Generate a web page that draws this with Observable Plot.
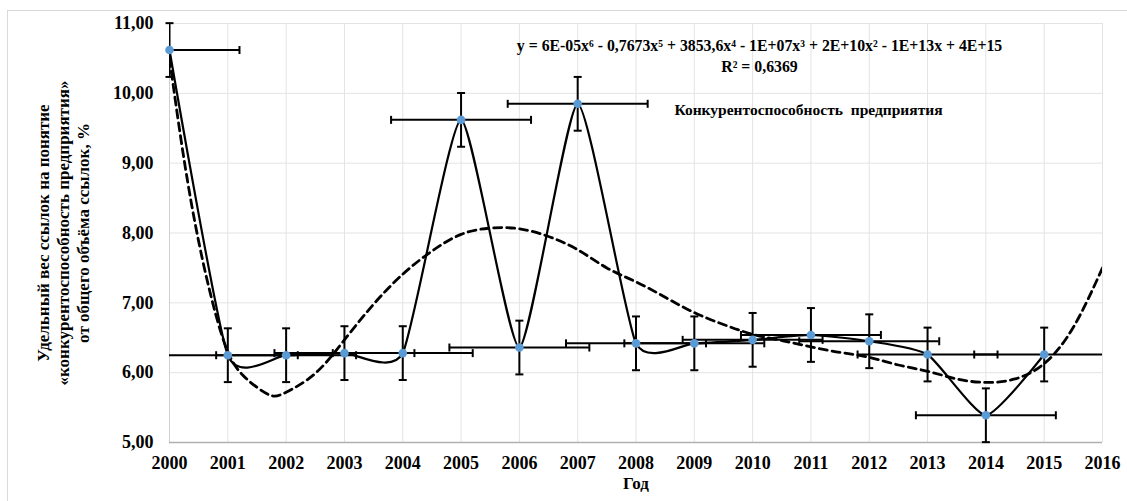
<!DOCTYPE html>
<html>
<head>
<meta charset="utf-8">
<script src="https://cdn.jsdelivr.net/npm/d3@7"></script>
<script src="https://cdn.jsdelivr.net/npm/@observablehq/plot@0.6"></script>
<style>
  html, body { margin: 0; padding: 0; background: #fff; }
  #wrap { position: relative; width: 1127px; height: 501px; overflow: hidden; }
  #frame { position: absolute; left: 7px; top: 10px; width: 1200px; height: 600px;
           border-top: 1px solid #d9d9d9; border-left: 1px solid #d9d9d9; }
  #chart { position: absolute; left: 0; top: 0; }
  #chart svg, #chart svg text, #chart svg g { font-family: "Liberation Serif", "DejaVu Serif", serif !important; }
</style>
</head>
<body>
<div id="wrap"><div id="frame"></div><div id="chart"></div></div>
<script>
// Observed series
const years  = [2000, 2001, 2002, 2003, 2004, 2005, 2006, 2007, 2008, 2009, 2010, 2011, 2012, 2013, 2014, 2015];
const values = [10.62, 6.25, 6.25, 6.28, 6.28, 9.62, 6.36, 9.85, 6.42, 6.42, 6.47, 6.54, 6.45, 6.26, 5.39, 6.26];
// Error bar sizes (fixed values)
const yErrors = [0.385, 0.385, 0.385, 0.385, 0.385, 0.385, 0.385, 0.385, 0.385, 0.385, 0.385, 0.385, 0.385, 0.385, 0.385, 0.385];
const xErrors = [1.2, 1.2, 1.2, 1.2, 1.2, 1.2, 1.2, 1.2, 1.2, 1.2, 1.2, 1.2, 1.2, 1.2, 1.2, 1.2];
// Polynomial trend line
const trendX = [2000, 2000.25, 2000.5, 2000.75, 2001, 2001.25, 2001.5, 2001.75, 2002, 2002.5, 2003, 2003.5, 2004, 2004.5, 2005, 2005.5, 2006, 2006.5, 2007, 2007.5, 2008, 2008.5, 2009, 2009.5, 2010, 2010.5, 2011, 2011.5, 2012, 2012.5, 2013, 2013.5, 2014, 2014.5, 2015, 2015.5, 2016];
const trendY = [10.5, 9.05, 7.88, 6.97, 6.30, 5.97, 5.79, 5.67, 5.72, 5.99, 6.47, 6.98, 7.41, 7.74, 7.98, 8.07, 8.06, 7.95, 7.76, 7.50, 7.30, 7.08, 6.86, 6.69, 6.55, 6.46, 6.37, 6.29, 6.22, 6.11, 6.02, 5.91, 5.86, 5.91, 6.13, 6.65, 7.50];
// Axis ticks
const xTicks = [2000, 2001, 2002, 2003, 2004, 2005, 2006, 2007, 2008, 2009, 2010, 2011, 2012, 2013, 2014, 2015, 2016];
const yTicks = [5, 6, 7, 8, 9, 10, 11];
// Texts
const yTitle = "Удельный вес ссылок на понятие\n«конкурентоспособность предприятия»\nот общего объёма ссылок, %";
const xTitle = "Год";
const equation = "y = 6E-05x⁶ - 0,7673x⁵ + 3853,6x⁴ - 1E+07x³ + 2E+10x² - 1E+13x + 4E+15";
const rSquared = "R² = 0,6369";
const seriesName = "Конкурентоспособность  предприятия";

const data = years.map((x, i) => ({x, y: values[i], ex: xErrors[i], ey: yErrors[i]}));
const trend = trendX.map((x, i) => ({x, y: trendY[i]}));

const vCap = {draw(ctx, size) { const r = Math.sqrt(size / Math.PI); ctx.moveTo(0, -r); ctx.lineTo(0, r); }};
const hCap = {draw(ctx, size) { const r = Math.sqrt(size / Math.PI); ctx.moveTo(-r, 0); ctx.lineTo(r, 0); }};

const serif = "Liberation Serif, DejaVu Serif, serif";
const grid = "#e3e3e3";

const chart = Plot.plot({
  width: 1127,
  height: 501,
  marginLeft: 169,
  marginRight: 25,
  marginTop: 23,
  marginBottom: 59,
  style: {fontFamily: serif, fontWeight: "bold", fontSize: "18px", color: "#000", background: "transparent"},
  x: {domain: [2000, 2016]},
  y: {domain: [5, 11]},
  marks: [
    Plot.gridX(xTicks, {stroke: grid, strokeOpacity: 1, strokeWidth: 1}),
    Plot.gridY(yTicks, {stroke: grid, strokeOpacity: 1, strokeWidth: 1}),
    Plot.ruleX([2000], {stroke: "#d0d0d0", strokeWidth: 1}),
    Plot.ruleY([5], {stroke: "#b0b0b0", strokeWidth: 1.5}),
    Plot.axisX(xTicks, {tickSize: 0, tickPadding: 14, tickFormat: d => String(d), label: null, fontSize: 18, fontWeight: "bold"}),
    Plot.axisY(yTicks, {tickSize: 0, tickPadding: 16, tickFormat: d => d.toFixed(2).replace(".", ","), label: null, fontSize: 18, fontWeight: "bold"}),
    // trend line
    Plot.line(trend, {x: "x", y: "y", curve: "natural", stroke: "#000", strokeWidth: 2.8, strokeDasharray: "8,5", clip: true}),
    // smoothed series line
    Plot.line(data, {x: "x", y: "y", curve: "cardinal", tension: 0.45, stroke: "#000", strokeWidth: 2.2}),
    // horizontal error bars
    Plot.ruleY(data, {y: "y", x1: d => d.x - d.ex, x2: d => d.x + d.ex, stroke: "#000", strokeWidth: 2, clip: true}),
    Plot.dot(data, {x: d => d.x - d.ex, y: "y", symbol: vCap, r: 4, fill: "none", stroke: "#000", strokeWidth: 2, clip: true}),
    Plot.dot(data, {x: d => d.x + d.ex, y: "y", symbol: vCap, r: 4, fill: "none", stroke: "#000", strokeWidth: 2, clip: true}),
    // vertical error bars
    Plot.ruleX(data, {x: "x", y1: d => d.y - d.ey, y2: d => d.y + d.ey, stroke: "#000", strokeWidth: 2, clip: true}),
    Plot.dot(data, {x: "x", y: d => d.y - d.ey, symbol: hCap, r: 4, fill: "none", stroke: "#000", strokeWidth: 2}),
    Plot.dot(data, {x: "x", y: d => d.y + d.ey, symbol: hCap, r: 4, fill: "none", stroke: "#000", strokeWidth: 2}),
    // markers
    Plot.dot(data, {x: "x", y: "y", r: 4.3, fill: "#5b9bd5", stroke: "none"}),
    // texts
    Plot.text([yTitle], {frameAnchor: "left", textAnchor: "middle", lineAnchor: "middle", dx: -107, rotate: -90, lineHeight: 1.18, fontSize: 17, fontWeight: "bold", fill: "#000"}),
    Plot.text([xTitle], {frameAnchor: "bottom", dy: 46, fontSize: 17, fontWeight: "bold", fill: "#000"}),
    Plot.text([equation], {frameAnchor: "top-left", dx: 590, dy: 16, textAnchor: "middle", fontSize: 15.8, fontWeight: "bold", fill: "#000"}),
    Plot.text([rSquared], {frameAnchor: "top-left", dx: 590, dy: 37, textAnchor: "middle", fontSize: 15.8, fontWeight: "bold", fill: "#000"}),
    Plot.text([seriesName], {frameAnchor: "top-left", dx: 639, dy: 80, textAnchor: "middle", fontSize: 15.5, fontWeight: "bold", fill: "#000"})
  ]
});
document.getElementById("chart").appendChild(chart);
</script>
</body>
</html>
